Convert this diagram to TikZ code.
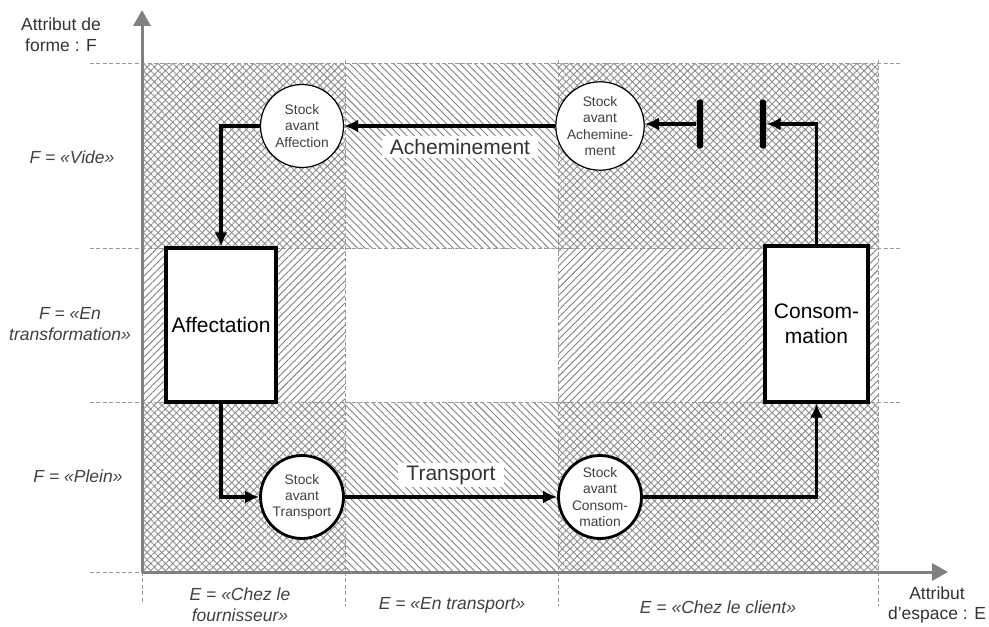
\documentclass[tikz,border=0pt]{standalone}
\usepackage{fontspec}
\setmainfont{Liberation Sans}
\usetikzlibrary{arrows.meta,patterns.meta}

\tikzset{
  grille/.style={black!40,dash pattern=on 2pt off 1.2pt,line width=.5pt},
  axe/.style={gray,line width=1.5pt,-{Triangle[length=8pt,width=8.5pt]}},
  croise/.style={pattern={Hatch[angle=45,distance=2.6pt,line width=.45pt]},pattern color=black!45},
  hachD/.style={pattern={Lines[angle=45,distance=2.6pt,line width=.45pt]},pattern color=black!50},
  hachG/.style={pattern={Lines[angle=-45,distance=2.6pt,line width=.45pt]},pattern color=black!50},
  stock/.style={circle,draw,fill=white,line width=.6pt,minimum size=41.5pt,inner sep=0pt,
    align=center,font=\fontsize{6.9}{8.1}\selectfont,text=black!75},
  stock plein/.style={stock,line width=1.4pt},
  activite/.style={draw,fill=white,line width=1.6pt,inner sep=0pt,align=center,
    font=\fontsize{10.5}{12.6}\selectfont},
  barre/.style={fill=black,rounded corners=1.4pt,minimum width=3.2pt,minimum height=24.5pt,inner sep=0pt},
  flux/.style={line width=1.55pt,-{Latex[length=7pt,width=6.5pt]}},
  flux label/.style={fill=white,inner xsep=4pt,inner ysep=1.5pt,font=\fontsize{10.5}{12.6}\selectfont,text=black!80},
  axe label/.style={align=center,font=\fontsize{8.75}{10.3}\selectfont,text=black!80},
  valeur/.style={align=center,font=\fontsize{8.75}{10.5}\selectfont\itshape,text=black!75}
}

\begin{document}
\begin{tikzpicture}[x=.5pt,y=-.5pt]
  \useasboundingbox (0,0) rectangle (989,626);

  % cases de l'espace forme / lieu
  \foreach \xa/\xb/\ya/\yb/\motif in {142/345/64/248/croise,345/558/64/248/hachG,558/878/64/248/croise,
      142/345/248/402/hachD,558/878/248/402/hachD,
      142/345/402/572/croise,345/558/402/572/hachG,558/878/402/572/croise}
    \fill[\motif] (\xa,\ya) rectangle (\xb,\yb);

  \foreach \y in {64,248,402,572}
    \draw[grille] (90,\y) -- (900,\y);
  \foreach \x in {345,558,878}
    \draw[grille] (\x,60) -- (\x,606);
  \draw[grille] (142,572) -- (142,604);

  % axes
  \coordinate (O) at (142,572);
  \coordinate (Fmax) at (142,10);
  \coordinate (Emax) at (948,572);
  \draw[axe] (O) -- (Fmax);
  \draw[axe] (O) -- (Emax);
  \node[axe label] (attF) at (61,35) {Attribut de\\forme : F};
  \node[axe label] (attE) at (937,605) {Attribut\\d'espace : E};

  \node[valeur] (fvide) at (72,157) {F = «Vide»};
  \node[valeur] (ftrans) at (70,324) {F = «En\\transformation»};
  \node[valeur] (fplein) at (78,476) {F = «Plein»};
  \node[valeur] (efour) at (240,605) {E = «Chez le\\fournisseur»};
  \node[valeur] (etrans) at (452,605) {E = «En transport»};
  \node[valeur] (eclient) at (718,607) {E = «Chez le client»};

  % stocks et activites
  \node[stock] (saf) at (302,126) {Stock\\avant\\Affection};
  \node[stock] (sach) at (600,126) {Stock\\avant\\Achemine-\\ment};
  \node[stock plein] (stra) at (302,497) {Stock\\avant\\Transport};
  \node[stock plein] (scons) at (600,497) {Stock\\avant\\Consom-\\mation};
  \node[activite,minimum width=55pt,minimum height=77pt] (aff) at (221,325) {Affectation};
  \node[activite,minimum width=51.5pt,minimum height=78pt] (cons) at (816.5,324) {Consom-\\mation};
  \node[barre] (b1) at (700,124) {};
  \node[barre] (b2) at (763,124) {};

  \node[flux label] (lach) at (460,147) {Acheminement};
  \node[flux label] (ltra) at (451,475) {Transport};

  % flux
  \draw[flux] (sach.west) -- (saf.east);
  \draw[flux] (saf.west) -| (aff.north);
  \draw[flux] (aff.south) |- (stra.west);
  \draw[flux] (stra.east) -- (scons.west);
  \draw[flux] (scons.east) -| (cons.south);
  \draw[flux] (cons.north) |- (b2.east);
  \draw[flux] (b1.west) -- (sach.east |- b1.west);
\end{tikzpicture}
\end{document}
